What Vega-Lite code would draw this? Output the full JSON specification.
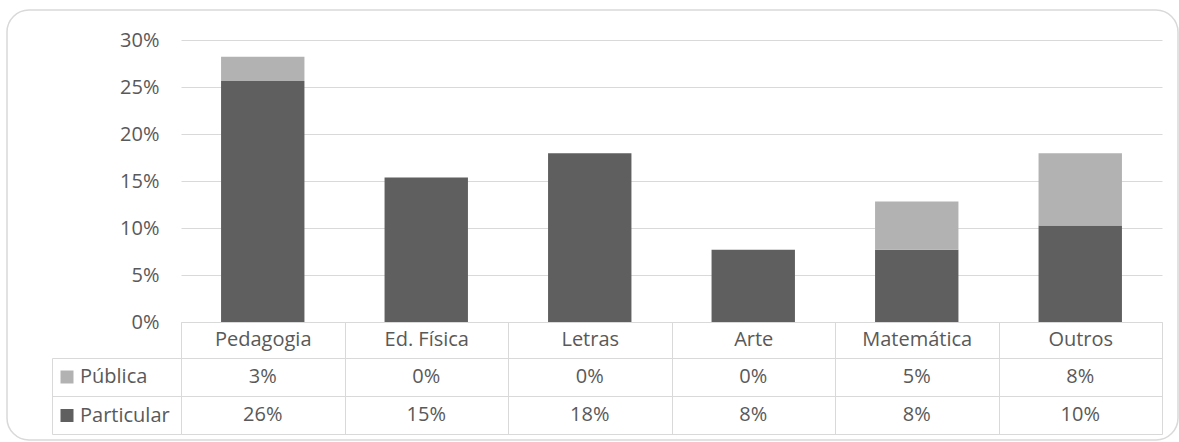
{
  "$schema": "https://vega.github.io/schema/vega-lite/v6.json",
  "width": 1179,
  "height": 442,
  "autosize": {"type": "fit", "contains": "padding"},
  "padding": {"left": 7, "top": 10, "right": 1, "bottom": 2},
  "background": "white",
  "config": {
    "font": "Open Sans",
    "view": {"stroke": "#d9d9d9", "strokeWidth": 1.5, "cornerRadius": 22},
    "axis": {"labelFont": "Open Sans", "labelFontSize": 20, "labelColor": "#595959", "title": null},
    "legend": {"labelFont": "Open Sans"}
  },
  "data": {
    "values": [
      {"curso": "Pedagogia", "serie": "Particular", "valor": 0.25641},
      {"curso": "Pedagogia", "serie": "Pública", "valor": 0.02564},
      {"curso": "Ed. Física", "serie": "Particular", "valor": 0.15385},
      {"curso": "Ed. Física", "serie": "Pública", "valor": 0},
      {"curso": "Letras", "serie": "Particular", "valor": 0.17949},
      {"curso": "Letras", "serie": "Pública", "valor": 0},
      {"curso": "Arte", "serie": "Particular", "valor": 0.07692},
      {"curso": "Arte", "serie": "Pública", "valor": 0},
      {"curso": "Matemática", "serie": "Particular", "valor": 0.07692},
      {"curso": "Matemática", "serie": "Pública", "valor": 0.05128},
      {"curso": "Outros", "serie": "Particular", "valor": 0.10256},
      {"curso": "Outros", "serie": "Pública", "valor": 0.07692}
    ]
  },
  "encoding": {
    "x": {
      "field": "curso",
      "type": "nominal",
      "sort": ["Pedagogia", "Ed. Física", "Letras", "Arte", "Matemática", "Outros"],
      "scale": {"range": [174, 1155], "paddingInner": 0, "paddingOuter": 0},
      "axis": {
        "orient": "bottom",
        "offset": -118,
        "domainColor": "#d9d9d9",
        "domainWidth": 1,
        "tickBand": "extent",
        "tickSize": 112,
        "tickColor": "#d9d9d9",
        "tickWidth": 1,
        "labelAngle": 0,
        "labelBaseline": "middle",
        "labelPadding": -95,
        "labelOverlap": false,
        "labelLimit": 0,
        "grid": false
      }
    }
  },
  "layer": [
    {
      "mark": {"type": "bar", "width": {"band": 0.51}},
      "encoding": {
        "y": {
          "field": "valor",
          "type": "quantitative",
          "stack": "zero",
          "scale": {"domain": [0, 0.3], "range": [312, 30], "nice": false},
          "axis": {
            "orient": "left",
            "offset": -174,
            "values": [0, 0.05, 0.1, 0.15, 0.2, 0.25, 0.3],
            "format": ".0%",
            "domain": false,
            "ticks": false,
            "labelPadding": 22,
            "grid": true,
            "gridColor": "#d9d9d9",
            "gridWidth": 1
          }
        },
        "color": {
          "field": "serie",
          "type": "nominal",
          "scale": {"domain": ["Pública", "Particular"], "range": ["#b2b2b2", "#5f5f5f"]},
          "legend": {
            "title": null,
            "orient": "none",
            "legendX": 50,
            "legendY": 357,
            "direction": "vertical",
            "symbolType": "square",
            "symbolSize": 169,
            "symbolStrokeWidth": 0,
            "symbolOpacity": 1,
            "labelFontSize": 20,
            "labelColor": "#595959",
            "labelOffset": 3,
            "rowPadding": 18.5,
            "padding": 0
          }
        },
        "order": {"field": "serie", "sort": "ascending"}
      }
    },
    {
      "mark": {"type": "text", "fontSize": 20, "color": "#595959", "baseline": "middle"},
      "encoding": {
        "y": {
          "field": "serie",
          "type": "nominal",
          "sort": ["Pública", "Particular"],
          "scale": {"domain": ["Pública", "Particular"], "range": [348, 424], "paddingInner": 0, "paddingOuter": 0},
          "axis": {
            "orient": "left",
            "offset": -45,
            "labels": false,
            "domainColor": "#d9d9d9",
            "domainWidth": 1,
            "tickBand": "extent",
            "tickSize": -129,
            "tickColor": "#d9d9d9",
            "tickWidth": 1,
            "grid": true,
            "gridColor": "#d9d9d9",
            "gridWidth": 1
          }
        },
        "text": {"field": "valor", "type": "quantitative", "format": ".0%"}
      }
    }
  ],
  "resolve": {"scale": {"y": "independent"}}
}
